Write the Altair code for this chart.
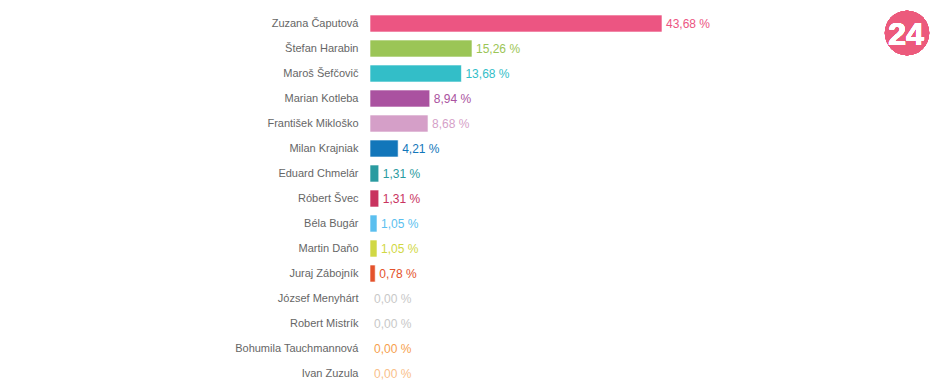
import altair as alt
import pandas as pd

candidates = ["Zuzana Čaputová", "Štefan Harabin", "Maroš Šefčovič", "Marian Kotleba",
              "František Mikloško", "Milan Krajniak", "Eduard Chmelár", "Róbert Švec",
              "Béla Bugár", "Martin Daňo", "Juraj Zábojník", "József Menyhárt",
              "Robert Mistrík", "Bohumila Tauchmannová", "Ivan Zuzula"]
values = [43.68, 15.26, 13.68, 8.94, 8.68, 4.21, 1.31, 1.31, 1.05, 1.05, 0.78, 0.0, 0.0, 0.0, 0.0]
colors = ["#EC5582", "#9BC556", "#33BEC8", "#AA52A0", "#D59FC8", "#1276BA", "#2A9BA0",
          "#C9335F", "#5BBFEF", "#D1D844", "#E4522B", "#C8C8C8", "#C8C8C8", "#F6A04D", "#F9C08A"]

df = pd.DataFrame({
    "name": candidates,
    "value": values,
    "color": colors,
    "label": [f"{v:.2f}".replace(".", ",") + " %" for v in values],
})

W, H = 580, 375
FONT = "Liberation Sans"

y = alt.Y("name:N", sort=candidates, title=None,
          scale=alt.Scale(paddingInner=0.32, paddingOuter=0.16),
          axis=alt.Axis(domain=False, ticks=False, labelPadding=12, labelFontSize=11,
                        labelColor="#666666", labelFont=FONT, labelLimit=300))
x = alt.X("value:Q", scale=alt.Scale(domain=[0, W / 6.685], nice=False), axis=None)

bars = alt.Chart(df).mark_bar(stroke="white", strokeWidth=1, strokeOpacity=0.6).encode(
    x=x, y=y, color=alt.Color("color:N", scale=None))

text = alt.Chart(df).mark_text(align="left", baseline="middle", dx=4, fontSize=12, font=FONT).encode(
    x=x, y=y, text="label:N", color=alt.Color("color:N", scale=None))

logo_bg = alt.Chart(df).mark_circle(size=1960, opacity=1, color="#EC5A7C").encode(
    x=alt.value(537), y=alt.value(22))
logo_txt = alt.Chart(df).mark_text(text="24", fontSize=32, fontWeight="bold", color="white",
                                   font=FONT, align="center",
                                   baseline="middle", dx=-1).encode(
    x=alt.value(537), y=alt.value(24))

chart = alt.layer(bars, text, logo_bg, logo_txt).properties(
    width=W, height=H,
    autosize=alt.AutoSizeParams(type="none"),
    padding={"left": 370, "top": 11, "right": 0, "bottom": 0},
    background="white",
).configure_view(stroke=None)

chart.save("out.html", embed_options={"renderer": "svg", "actions": False})
